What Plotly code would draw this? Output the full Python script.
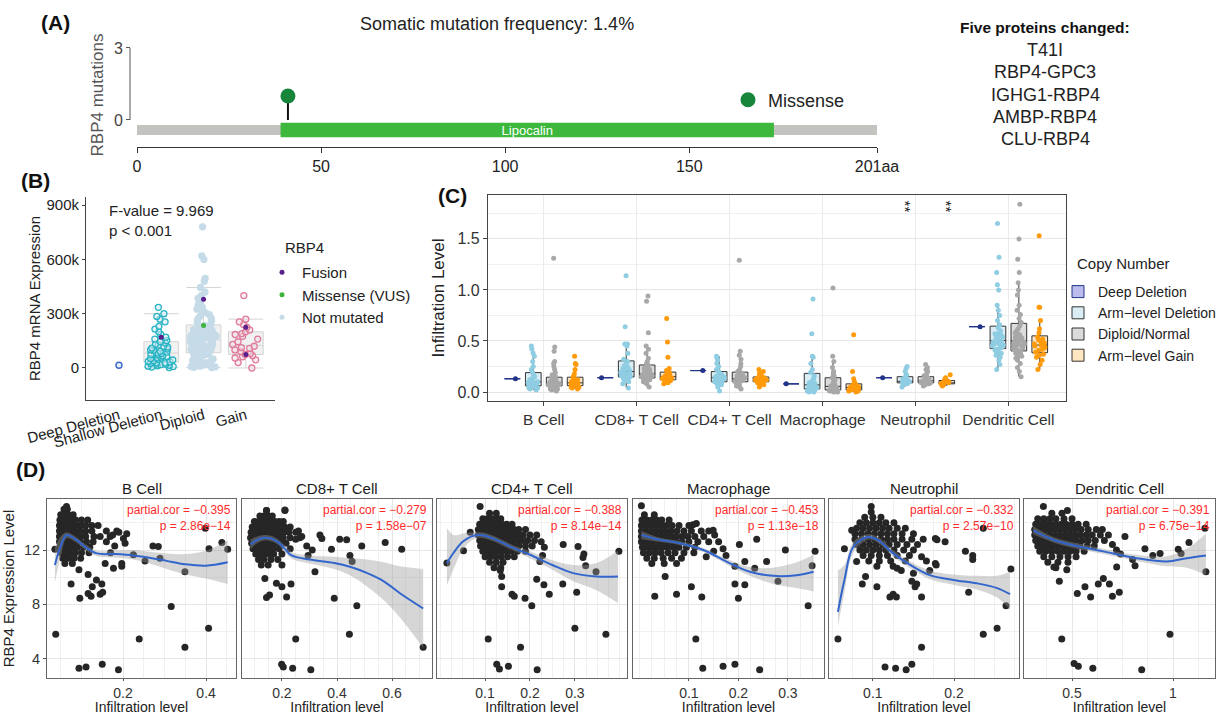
import plotly.graph_objects as go

W, H = 1226, 715
FONT = "Arial, Liberation Sans, Helvetica, sans-serif"


def fx(p):
    return p / W


def fy(p):
    return 1 - p / H


# ---------------- Panel A data ----------------
A_TITLE = "Somatic mutation frequency: 1.4%"
PROTEIN_LEN = 201
DOMAIN_NAME = "Lipocalin"
DOMAIN_START = 39
DOMAIN_END = 173
MUT_POS = [41]
MUT_COUNT = [1]
MUT_TYPE = "Missense"
A_XTICKS = [0, 50, 100, 150, 201]
A_XTICKTEXT = ["0", "50", "100", "150", "201aa"]
A_YTICKS = [0, 3]
PROTEIN_HEADER = "Five proteins changed:"
PROTEIN_CHANGES = ["T41I", "RBP4-GPC3", "IGHG1-RBP4", "AMBP-RBP4", "CLU-RBP4"]

# ---------------- Panel B data (values in thousands) ----------------
B_CATS = ["Deep Deletion", "Shallow Deletion", "Diploid", "Gain"]
B_DEEP = [15]
B_SHALLOW = [2, 5, 8, 10, 12, 15, 18, 20, 22, 25, 28, 30, 33, 36, 40, 44, 48, 52, 56, 60,
             64, 68, 72, 76, 80, 84, 88, 92, 96, 100, 105, 110, 115, 120, 126, 132, 138,
             145, 152, 160, 170, 185, 200, 215, 230, 255, 270, 285, 300, 335]
B_DIPLOID = [2, 4, 6, 8, 10, 13, 16, 19, 22, 25, 29, 33, 37, 41, 45, 50, 55, 60, 65, 70, 75, 79,
             82, 85, 88, 91, 94, 97, 100, 103, 106, 109, 112, 115, 118, 121, 124, 127, 130, 133,
             136, 139, 142, 145, 148, 152, 155, 158, 161, 164, 167, 170, 173, 176, 179, 182,
             185, 188, 191, 194, 197, 200, 203, 206, 209, 212, 214, 220, 228, 236, 244, 252,
             260, 268, 276, 285, 295, 305, 315, 325, 335, 345, 355, 370, 385, 400, 420,
             445, 480, 495, 600, 620, 780]
B_GAIN = [0, 30, 45, 55, 62, 68, 75, 80, 90, 100, 108, 112, 120, 130, 145, 160, 175, 185, 190,
          200, 210, 225, 240, 255, 270, 400]
B_FUSION_CAT = ["Shallow Deletion", "Diploid", "Gain", "Gain"]
B_FUSION_VAL = [170, 380, 225, 75]
B_MISSENSE_CAT = ["Diploid"]
B_MISSENSE_VAL = [235]
B_YTICKS = [0, 300, 600, 900]
B_YTICKTEXT = ["0", "300k", "600k", "900k"]
B_STATS = "F-value = 9.969<br>p < 0.001"
B_LEGEND_TITLE = "RBP4"

# ---------------- Panel C data ----------------
C_CATS = ["B Cell", "CD8+ T Cell", "CD4+ T Cell", "Macrophage", "Neutrophil", "Dendritic Cell"]
C_DEEP = {"B Cell": [0.13], "CD8+ T Cell": [0.14], "CD4+ T Cell": [0.21],
          "Macrophage": [0.08], "Neutrophil": [0.14], "Dendritic Cell": [0.64]}
C_ARMDEL = {
    "B Cell": [0.02, 0.03, 0.04, 0.04, 0.05, 0.05, 0.06, 0.06, 0.07, 0.07, 0.08, 0.08, 0.09, 0.09,
               0.10, 0.10, 0.11, 0.12, 0.13, 0.14, 0.15, 0.17, 0.19, 0.22, 0.25, 0.30, 0.35, 0.38,
               0.42, 0.45],
    "CD8+ T Cell": [0.04, 0.08, 0.10, 0.11, 0.12, 0.13, 0.14, 0.15, 0.15, 0.16, 0.17, 0.18, 0.18,
                    0.19, 0.20, 0.21, 0.22, 0.23, 0.24, 0.26, 0.28, 0.30, 0.32, 0.38, 0.45, 0.47,
                    0.47, 0.64, 1.14],
    "CD4+ T Cell": [0.01, 0.05, 0.07, 0.08, 0.09, 0.10, 0.10, 0.11, 0.12, 0.12, 0.13, 0.13, 0.14,
                    0.14, 0.15, 0.15, 0.16, 0.17, 0.18, 0.20, 0.22, 0.25, 0.28, 0.31, 0.33, 0.35],
    "Macrophage": [0.00, 0.00, 0.01, 0.01, 0.02, 0.02, 0.03, 0.03, 0.04, 0.04, 0.05, 0.05, 0.06,
                   0.07, 0.08, 0.09, 0.10, 0.12, 0.14, 0.16, 0.19, 0.22, 0.28, 0.34, 0.35, 0.57,
                   0.91],
    "Neutrophil": [0.05, 0.07, 0.08, 0.08, 0.09, 0.09, 0.10, 0.10, 0.10, 0.11, 0.11, 0.12, 0.13,
                   0.15, 0.17, 0.20, 0.23, 0.25],
    "Dendritic Cell": [0.22, 0.27, 0.31, 0.34, 0.36, 0.38, 0.39, 0.40, 0.41, 0.42, 0.43, 0.44,
                       0.45, 0.46, 0.46, 0.47, 0.47, 0.48, 0.49, 0.50, 0.51, 0.52, 0.53, 0.54,
                       0.55, 0.56, 0.57, 0.58, 0.60, 0.63, 0.66, 0.70, 0.75, 0.80, 0.85, 1.00,
                       1.05, 1.17, 1.32, 1.65],
}
C_DIPLOID = {
    "B Cell": [0.01, 0.02, 0.03, 0.03, 0.04, 0.04, 0.05, 0.05, 0.05, 0.06, 0.06, 0.06, 0.07, 0.07,
               0.07, 0.08, 0.08, 0.08, 0.08, 0.09, 0.09, 0.09, 0.10, 0.10, 0.11, 0.11, 0.12, 0.12,
               0.13, 0.14, 0.15, 0.17, 0.19, 0.22, 0.25, 0.28, 0.30, 0.40, 0.44, 1.31],
    "CD8+ T Cell": [0.05, 0.08, 0.09, 0.10, 0.11, 0.12, 0.12, 0.13, 0.13, 0.14, 0.14, 0.15, 0.15,
                    0.16, 0.16, 0.17, 0.17, 0.17, 0.18, 0.18, 0.19, 0.19, 0.20, 0.21, 0.22, 0.23,
                    0.24, 0.26, 0.28, 0.30, 0.33, 0.38, 0.42, 0.45, 0.58, 0.89, 0.94],
    "CD4+ T Cell": [0.03, 0.05, 0.06, 0.07, 0.08, 0.09, 0.09, 0.10, 0.10, 0.11, 0.11, 0.12, 0.12,
                    0.12, 0.13, 0.13, 0.14, 0.14, 0.15, 0.15, 0.16, 0.17, 0.18, 0.20, 0.22, 0.25,
                    0.28, 0.32, 0.36, 0.40, 1.29],
    "Macrophage": [0.00, 0.00, 0.01, 0.01, 0.01, 0.02, 0.02, 0.02, 0.03, 0.03, 0.03, 0.04, 0.04,
                   0.05, 0.05, 0.06, 0.06, 0.07, 0.08, 0.09, 0.10, 0.12, 0.14, 0.16, 0.18, 0.20,
                   0.24, 0.30, 0.35, 1.02],
    "Neutrophil": [0.06, 0.07, 0.08, 0.08, 0.09, 0.09, 0.09, 0.10, 0.10, 0.10, 0.10, 0.11, 0.11,
                   0.11, 0.12, 0.12, 0.13, 0.14, 0.16, 0.18, 0.20, 0.22, 0.24, 0.27],
    "Dendritic Cell": [0.15, 0.20, 0.24, 0.28, 0.31, 0.33, 0.35, 0.36, 0.37, 0.38, 0.39, 0.40,
                       0.41, 0.42, 0.43, 0.44, 0.45, 0.45, 0.46, 0.46, 0.47, 0.48, 0.49, 0.50,
                       0.51, 0.52, 0.53, 0.54, 0.55, 0.56, 0.57, 0.58, 0.60, 0.62, 0.65, 0.68,
                       0.72, 0.76, 0.80, 0.85, 0.95, 1.00, 1.07, 1.17, 1.30, 1.50, 1.84],
}
C_GAIN = {
    "B Cell": [0.03, 0.04, 0.05, 0.05, 0.06, 0.06, 0.07, 0.07, 0.08, 0.08, 0.08, 0.09, 0.09, 0.10,
               0.11, 0.12, 0.13, 0.15, 0.18, 0.22, 0.27, 0.28, 0.35],
    "CD8+ T Cell": [0.08, 0.09, 0.10, 0.11, 0.12, 0.12, 0.13, 0.13, 0.14, 0.14, 0.15, 0.15, 0.16,
                    0.17, 0.18, 0.19, 0.21, 0.23, 0.34, 0.49, 0.72],
    "CD4+ T Cell": [0.05, 0.07, 0.08, 0.09, 0.10, 0.10, 0.11, 0.11, 0.12, 0.12, 0.13, 0.13, 0.14,
                    0.14, 0.15, 0.16, 0.18, 0.20, 0.22],
    "Macrophage": [0.00, 0.01, 0.01, 0.02, 0.02, 0.03, 0.03, 0.04, 0.04, 0.05, 0.05, 0.06, 0.07,
                   0.08, 0.10, 0.13, 0.20, 0.56],
    "Neutrophil": [0.06, 0.07, 0.08, 0.08, 0.09, 0.09, 0.09, 0.10, 0.10, 0.11, 0.12, 0.14, 0.17],
    "Dendritic Cell": [0.22, 0.27, 0.31, 0.34, 0.36, 0.37, 0.39, 0.41, 0.42, 0.43, 0.44, 0.45,
                       0.46, 0.47, 0.48, 0.50, 0.51, 0.52, 0.54, 0.58, 0.62, 0.70, 0.83, 0.83, 1.53],
}
C_GROUPS = ["Deep Deletion", "Arm\u2212level Deletion", "Diploid/Normal", "Arm\u2212level Gain"]
C_LEGEND_TITLE = "Copy Number"
C_SIG = [("Neutrophil", "Arm\u2212level Deletion"), ("Neutrophil", "Arm\u2212level Gain")]

# ---------------- Panel D data ----------------
D_NAMES = ["B Cell", "CD8+ T Cell", "CD4+ T Cell", "Macrophage", "Neutrophil", "Dendritic Cell"]
D_COR = ["\u22120.395", "\u22120.279", "\u22120.388", "\u22120.453", "\u22120.332", "\u22120.391"]
D_PVAL = ["2.86e\u221214", "1.58e\u221207", "8.14e\u221214", "1.13e\u221218", "2.57e\u221210", "6.75e\u221214"]

# dense clusters: (expression level, [infiltration values])
D_BCELL_ROWS = [
    (15.0, [0.058, 0.066]),
    (14.6, [0.050, 0.058, 0.068, 0.080]),
    (14.2, [0.048, 0.056, 0.065, 0.075, 0.086, 0.100, 0.115]),
    (13.8, [0.047, 0.055, 0.064, 0.074, 0.085, 0.097, 0.110, 0.125, 0.140]),
    (13.4, [0.047, 0.055, 0.064, 0.074, 0.085, 0.097, 0.110, 0.125, 0.160, 0.185]),
    (13.0, [0.047, 0.055, 0.064, 0.074, 0.085, 0.097, 0.110, 0.130, 0.145]),
    (12.6, [0.047, 0.055, 0.064, 0.074, 0.085, 0.097, 0.112, 0.128]),
    (12.2, [0.048, 0.056, 0.066, 0.077, 0.090, 0.105, 0.120]),
    (11.8, [0.050, 0.060, 0.072, 0.085, 0.100, 0.118]),
    (11.4, [0.055, 0.068, 0.082, 0.098]),
    (11.0, [0.060, 0.078]),
]
D_BCELL_OUT = [(0.038, 5.8), (0.094, 3.3), (0.111, 3.4), (0.15, 3.6), (0.189, 3.2), (0.239, 5.45),
               (0.349, 4.85), (0.406, 6.25), (0.316, 7.85), (0.349, 10.4), (0.398, 13.6),
               (0.407, 12.1), (0.438, 12.55), (0.452, 12.05), (0.285, 12.25), (0.289, 11.4),
               (0.272, 12.3), (0.253, 11.2), (0.225, 11.65), (0.197, 11.0), (0.197, 10.8),
               (0.177, 10.65), (0.157, 11.0), (0.205, 12.5), (0.201, 12.85), (0.209, 13.2),
               (0.169, 13.0), (0.175, 13.1), (0.075, 9.5), (0.096, 8.45), (0.116, 8.8),
               (0.123, 8.6), (0.145, 8.75), (0.151, 8.9), (0.149, 9.5), (0.126, 9.3),
               (0.136, 9.8), (0.116, 10.2), (0.094, 10.55), (0.036, 12.05), (0.064, 15.2),
               (0.16, 12.6), (0.18, 12.3), (0.19, 13.3), (0.17, 11.8)]
D_BCELL_SM = dict(x=[0.036, 0.05, 0.064, 0.085, 0.11, 0.137, 0.18, 0.225, 0.27, 0.305, 0.35, 0.40, 0.452],
                  y=[10.9, 12.3, 13.1, 12.8, 12.2, 11.75, 11.7, 11.6, 11.4, 11.2, 10.95, 10.85, 11.1],
                  lo=[9.6, 11.5, 12.85, 12.6, 12.0, 11.55, 11.45, 11.3, 10.95, 10.6, 10.2, 9.9, 9.5],
                  hi=[12.2, 13.0, 13.3, 13.0, 12.4, 11.95, 11.95, 12.0, 11.85, 11.75, 11.7, 11.95, 12.7])

D_CD8_ROWS = [
    (14.9, [0.144, 0.211]),
    (14.5, [0.120, 0.135, 0.150, 0.165]),
    (14.1, [0.100, 0.115, 0.130, 0.145, 0.160, 0.175, 0.190, 0.205]),
    (13.7, [0.092, 0.105, 0.120, 0.135, 0.150, 0.165, 0.180, 0.195, 0.210, 0.230]),
    (13.3, [0.088, 0.100, 0.115, 0.130, 0.145, 0.160, 0.175, 0.190, 0.205, 0.225, 0.250]),
    (12.9, [0.086, 0.098, 0.112, 0.127, 0.142, 0.157, 0.172, 0.187, 0.205, 0.230, 0.265]),
    (12.5, [0.090, 0.102, 0.117, 0.132, 0.147, 0.162, 0.177, 0.195, 0.215]),
    (12.1, [0.095, 0.110, 0.125, 0.140, 0.155, 0.170, 0.190, 0.230]),
    (11.7, [0.105, 0.120, 0.135, 0.150, 0.170, 0.200]),
    (11.3, [0.115, 0.135, 0.160, 0.185]),
    (10.9, [0.125, 0.150, 0.200]),
]
D_CD8_OUT = [(0.144, 8.5), (0.155, 8.7), (0.217, 8.55), (0.18, 9.55), (0.2, 9.3), (0.233, 9.5),
             (0.138, 9.9), (0.39, 8.45), (0.472, 7.9), (0.445, 5.8), (0.25, 5.45), (0.199, 3.6),
             (0.205, 3.4), (0.239, 3.3), (0.305, 3.2), (0.575, 12.55), (0.635, 12.05),
             (0.447, 11.6), (0.455, 11.15), (0.435, 12.75), (0.41, 12.8), (0.38, 12.05),
             (0.49, 12.3), (0.32, 10.4), (0.295, 11.6), (0.338, 13.1), (0.345, 12.85),
             (0.272, 13.0), (0.26, 13.4), (0.25, 12.8), (0.211, 14.95), (0.144, 14.9),
             (0.713, 4.85), (0.29, 12.3), (0.31, 12.0)]
D_CD8_SM = dict(x=[0.086, 0.11, 0.135, 0.16, 0.185, 0.21, 0.235, 0.3, 0.39, 0.45, 0.51, 0.57, 0.63, 0.713],
                y=[12.4, 12.75, 12.9, 12.85, 12.6, 12.1, 11.6, 11.3, 11.05, 10.75, 10.3, 9.7, 8.8, 7.7],
                lo=[12.05, 12.5, 12.7, 12.65, 12.4, 11.85, 11.35, 11.0, 10.6, 10.1, 9.3, 8.3, 7.0, 4.8],
                hi=[12.75, 13.0, 13.1, 13.05, 12.8, 12.35, 11.85, 11.6, 11.5, 11.4, 11.3, 11.1, 10.8, 10.6])

D_CD4_ROWS = [
    (14.7, [0.110, 0.125]),
    (14.3, [0.095, 0.105, 0.115, 0.125, 0.135]),
    (13.9, [0.088, 0.098, 0.108, 0.118, 0.128, 0.138, 0.148, 0.160]),
    (13.5, [0.085, 0.095, 0.105, 0.115, 0.125, 0.135, 0.145, 0.155, 0.165, 0.175, 0.190]),
    (13.1, [0.085, 0.095, 0.105, 0.115, 0.125, 0.135, 0.145, 0.155, 0.165, 0.175, 0.185, 0.200, 0.215]),
    (12.7, [0.088, 0.098, 0.108, 0.118, 0.128, 0.138, 0.148, 0.158, 0.170, 0.182, 0.195, 0.210]),
    (12.3, [0.090, 0.100, 0.110, 0.120, 0.130, 0.140, 0.150, 0.162, 0.175, 0.190, 0.205]),
    (11.9, [0.095, 0.105, 0.115, 0.125, 0.135, 0.145, 0.158, 0.172, 0.190]),
    (11.5, [0.100, 0.112, 0.124, 0.136, 0.150, 0.165]),
    (11.1, [0.110, 0.125, 0.140]),
    (10.7, [0.120, 0.135]),
]
D_CD4_OUT = [(0.089, 15.2), (0.015, 11.05), (0.052, 11.95), (0.067, 13.3), (0.107, 5.45),
             (0.179, 4.85), (0.126, 3.6), (0.132, 3.25), (0.152, 3.45), (0.216, 3.2), (0.3, 6.25),
             (0.369, 5.8), (0.204, 7.9), (0.189, 8.45), (0.16, 8.75), (0.165, 8.6), (0.243, 8.75),
             (0.304, 8.9), (0.273, 9.5), (0.231, 9.45), (0.215, 9.85), (0.137, 9.3),
             (0.137, 10.05), (0.134, 10.5), (0.274, 12.4), (0.307, 12.25), (0.318, 11.45),
             (0.32, 11.7), (0.324, 10.85), (0.347, 10.4), (0.398, 11.9), (0.222, 11.15),
             (0.228, 11.6), (0.232, 12.2), (0.225, 12.6)]
D_CD4_SM = dict(x=[0.015, 0.03, 0.05, 0.07, 0.085, 0.1, 0.125, 0.156, 0.2, 0.25, 0.296, 0.348, 0.396],
                y=[11.05, 11.8, 12.6, 13.0, 13.1, 13.05, 12.75, 12.25, 11.65, 10.9, 10.3, 10.05, 10.05],
                lo=[9.4, 10.6, 12.0, 12.7, 12.9, 12.85, 12.55, 12.05, 11.4, 10.55, 9.7, 9.05, 8.1],
                hi=[13.6, 13.1, 13.2, 13.3, 13.3, 13.25, 12.95, 12.45, 11.9, 11.25, 10.9, 11.05, 11.95])

D_MAC_ROWS = [
    (14.6, [0.010, 0.030]),
    (14.2, [0.005, 0.015, 0.025, 0.035, 0.045, 0.060]),
    (13.8, [0.004, 0.014, 0.024, 0.034, 0.044, 0.054, 0.066, 0.080, 0.100]),
    (13.4, [0.004, 0.014, 0.024, 0.034, 0.044, 0.054, 0.064, 0.076, 0.090, 0.105, 0.125, 0.140]),
    (13.0, [0.004, 0.014, 0.024, 0.034, 0.044, 0.054, 0.064, 0.074, 0.086, 0.098, 0.112, 0.130]),
    (12.6, [0.004, 0.014, 0.024, 0.034, 0.044, 0.054, 0.064, 0.074, 0.086, 0.100, 0.118, 0.140]),
    (12.2, [0.006, 0.016, 0.026, 0.036, 0.046, 0.056, 0.068, 0.080, 0.095, 0.112]),
    (11.8, [0.008, 0.020, 0.032, 0.044, 0.058, 0.072, 0.090, 0.110]),
    (11.4, [0.015, 0.030, 0.048, 0.065, 0.085]),
    (11.0, [0.025, 0.050, 0.075]),
]
D_MAC_OUT = [(0.004, 15.25), (0.031, 8.6), (0.075, 8.75), (0.052, 10.05), (0.105, 9.3),
             (0.126, 8.55), (0.114, 5.45), (0.128, 3.3), (0.169, 3.45), (0.193, 3.6),
             (0.243, 3.2), (0.193, 9.5), (0.213, 9.45), (0.2, 8.45), (0.341, 7.9), (0.28, 9.7),
             (0.237, 12.8), (0.202, 12.4), (0.169, 12.1), (0.175, 11.6), (0.213, 11.15),
             (0.257, 11.15), (0.233, 10.65), (0.193, 10.8), (0.295, 12.0), (0.355, 11.9),
             (0.349, 10.85), (0.149, 13.45), (0.152, 13.1), (0.115, 13.95), (0.108, 13.85),
             (0.16, 12.6), (0.15, 11.9), (0.135, 11.5)]
D_MAC_SM = dict(x=[0.004, 0.041, 0.082, 0.129, 0.176, 0.223, 0.27, 0.318, 0.352],
                y=[13.1, 12.75, 12.5, 12.0, 11.15, 10.4, 10.1, 10.15, 10.4],
                lo=[12.8, 12.6, 12.35, 11.85, 10.95, 10.1, 9.5, 9.2, 8.95],
                hi=[13.4, 12.9, 12.65, 12.15, 11.35, 10.75, 10.7, 11.1, 11.65])

D_NEU_ROWS = [
    (14.8, [0.098]),
    (14.4, [0.090, 0.100, 0.110]),
    (14.0, [0.084, 0.092, 0.100, 0.108, 0.116, 0.126]),
    (13.6, [0.080, 0.088, 0.096, 0.104, 0.112, 0.120, 0.130, 0.140]),
    (13.2, [0.078, 0.086, 0.094, 0.102, 0.110, 0.118, 0.126, 0.136, 0.150]),
    (12.8, [0.078, 0.086, 0.094, 0.102, 0.110, 0.118, 0.126, 0.136, 0.148, 0.162]),
    (12.4, [0.080, 0.088, 0.096, 0.104, 0.112, 0.120, 0.130, 0.142, 0.155]),
    (12.0, [0.084, 0.092, 0.100, 0.108, 0.116, 0.126, 0.138, 0.150]),
    (11.6, [0.088, 0.098, 0.108, 0.118, 0.130, 0.145]),
    (11.2, [0.095, 0.108, 0.122, 0.140]),
    (10.8, [0.105, 0.125]),
]
D_NEU_OUT = [(0.057, 5.45), (0.065, 12.1), (0.074, 13.45), (0.08, 11.15), (0.091, 10.05),
             (0.087, 9.5), (0.105, 9.3), (0.098, 15.2), (0.115, 3.4), (0.128, 3.3), (0.141, 3.2),
             (0.148, 3.6), (0.16, 4.85), (0.121, 8.55), (0.125, 8.75), (0.129, 8.55), (0.16, 8.55),
             (0.152, 9.3), (0.154, 9.5), (0.148, 9.7), (0.177, 12.85), (0.179, 12.75),
             (0.189, 12.6), (0.177, 11.0), (0.178, 10.9), (0.166, 11.2), (0.236, 13.6),
             (0.214, 11.9), (0.223, 11.6), (0.223, 11.3), (0.218, 8.9), (0.236, 5.8),
             (0.253, 6.25), (0.264, 7.9), (0.27, 10.6), (0.13, 10.65), (0.135, 10.5),
             (0.15, 10.3), (0.17, 10.5), (0.16, 11.5)]
D_NEU_SM = dict(x=[0.057, 0.065, 0.076, 0.094, 0.106, 0.125, 0.146, 0.17, 0.199, 0.228, 0.253, 0.269],
                y=[7.45, 9.8, 12.25, 12.95, 12.75, 11.75, 10.9, 10.15, 9.8, 9.55, 9.2, 8.75],
                lo=[6.4, 8.9, 11.8, 12.75, 12.55, 11.5, 10.65, 9.85, 9.45, 9.1, 8.5, 7.6],
                hi=[10.5, 10.9, 12.6, 13.15, 12.95, 12.0, 11.15, 10.5, 10.2, 10.1, 10.1, 10.4])

D_DC_ROWS = [
    (14.7, [0.400, 0.450]),
    (14.3, [0.330, 0.360, 0.390, 0.420, 0.460, 0.500]),
    (13.9, [0.320, 0.345, 0.370, 0.395, 0.420, 0.445, 0.470, 0.500, 0.530, 0.570]),
    (13.5, [0.315, 0.340, 0.365, 0.390, 0.415, 0.440, 0.465, 0.490, 0.515, 0.545, 0.580, 0.620, 0.650]),
    (13.1, [0.315, 0.340, 0.365, 0.390, 0.415, 0.440, 0.465, 0.490, 0.515, 0.540, 0.570, 0.600, 0.640, 0.680]),
    (12.7, [0.320, 0.345, 0.370, 0.395, 0.420, 0.445, 0.470, 0.495, 0.520, 0.550, 0.580, 0.615, 0.660]),
    (12.3, [0.330, 0.355, 0.380, 0.405, 0.430, 0.455, 0.480, 0.510, 0.540, 0.575, 0.610]),
    (11.9, [0.340, 0.370, 0.400, 0.430, 0.460, 0.490, 0.520, 0.560]),
    (11.5, [0.360, 0.400, 0.440, 0.480, 0.520]),
    (11.1, [0.380, 0.430, 0.480]),
    (10.7, [0.420]),
]
D_DC_OUT = [(0.358, 15.2), (0.477, 14.9), (0.449, 5.45), (0.51, 3.65), (0.531, 3.45), (0.603, 3.3),
            (0.845, 3.2), (0.985, 5.8), (0.526, 8.8), (0.592, 8.55), (0.564, 9.3), (0.63, 9.5),
            (0.655, 9.9), (0.685, 9.5), (0.70, 8.6), (0.734, 8.9), (0.437, 9.7), (0.474, 10.55),
            (0.41, 10.75), (0.721, 10.75), (0.812, 10.85), (0.762, 13.0), (0.861, 12.1),
            (0.936, 11.75), (0.9, 11.6), (1.026, 12.05), (1.04, 11.75), (1.079, 12.55),
            (1.158, 13.6), (1.163, 10.4), (0.8, 11.3), (0.7, 12.4), (0.72, 12.0), (0.74, 11.7)]
D_DC_SM = dict(x=[0.308, 0.407, 0.506, 0.655, 0.82, 0.969, 1.068, 1.163],
               y=[13.45, 12.75, 12.35, 11.9, 11.4, 11.15, 11.4, 11.6],
               lo=[13.15, 12.55, 12.15, 11.7, 11.2, 10.8, 10.7, 10.15],
               hi=[13.75, 12.95, 12.55, 12.1, 11.65, 11.55, 12.1, 13.2])

D_ROWS = [D_BCELL_ROWS, D_CD8_ROWS, D_CD4_ROWS, D_MAC_ROWS, D_NEU_ROWS, D_DC_ROWS]
D_OUT = [D_BCELL_OUT, D_CD8_OUT, D_CD4_OUT, D_MAC_OUT, D_NEU_OUT, D_DC_OUT]
D_SM = [D_BCELL_SM, D_CD8_SM, D_CD4_SM, D_MAC_SM, D_NEU_SM, D_DC_SM]
D_XTICKS = [[0.2, 0.4], [0.2, 0.4, 0.6], [0.1, 0.2, 0.3], [0.1, 0.2, 0.3], [0.1, 0.2], [0.5, 1.0]]
D_YTICKS = [4, 8, 12]

# ---------------- layout geometry (pixels) ----------------
D_PANEL_PX = [(47, 236), (242, 432), (437, 627), (633, 824), (829, 1019), (1024, 1215)]
D_XRANGE = [[0.017, 0.472], [0.055, 0.745], [-0.007, 0.416], [-0.013, 0.373], [0.046, 0.28], [0.262, 1.208]]
D_XMINOR = [0.05, 0.05, 0.025, 0.025, 0.025, 0.125]

fig = go.Figure()

# ================= Panel A =================
fig.add_trace(go.Bar(x=[PROTEIN_LEN], base=[0], y=[-0.42], orientation="h", width=0.42,
                     marker=dict(color="#c3c3bf", line=dict(width=0)), xaxis="x", yaxis="y",
                     showlegend=False, hoverinfo="skip"))
fig.add_trace(go.Bar(x=[DOMAIN_END - DOMAIN_START], base=[DOMAIN_START], y=[-0.42], orientation="h",
                     width=0.6, marker=dict(color="#3db83d", line=dict(width=0)),
                     text=[DOMAIN_NAME], textposition="inside", insidetextanchor="middle",
                     textangle=0, constraintext="none",
                     textfont=dict(color="white", size=13, family=FONT),
                     xaxis="x", yaxis="y", showlegend=False, hoverinfo="skip"))
for pos, cnt in zip(MUT_POS, MUT_COUNT):
    fig.add_trace(go.Scatter(x=[pos, pos], y=[0, cnt], mode="lines",
                             line=dict(color="#111111", width=2), xaxis="x", yaxis="y",
                             showlegend=False, hoverinfo="skip"))
fig.add_trace(go.Scatter(x=MUT_POS, y=MUT_COUNT, mode="markers", name=MUT_TYPE,
                         marker=dict(size=15, color="#17863b"), xaxis="x", yaxis="y",
                         legend="legend3", showlegend=True, hoverinfo="skip"))

# ================= Panel B =================
def b_box(cat, vals, fill, ring):
    return go.Box(x=[cat] * len(vals), y=vals, xaxis="x2", yaxis="y2", boxpoints="all",
                  jitter=0.9, pointpos=0, width=0.82, offsetgroup="B", alignmentgroup="B",
                  fillcolor="rgba(215,215,215,0.35)", line=dict(color="#d4d4d4", width=1),
                  whiskerwidth=1, marker=dict(size=6, color=fill, line=dict(color=ring, width=1.3)),
                  showlegend=False, hoverinfo="skip")


fig.add_trace(b_box(B_CATS[1], B_SHALLOW, "rgba(210,235,245,0.5)", "#28b4c4"))
fig.add_trace(b_box(B_CATS[2], B_DIPLOID, "#c6dbe8", "#c6dbe8"))
fig.add_trace(b_box(B_CATS[3], B_GAIN, "rgba(240,220,230,0.5)", "#e07b9a"))
fig.add_trace(go.Scatter(x=[B_CATS[0]] * len(B_DEEP), y=B_DEEP, mode="markers",
                         marker=dict(size=6, color="rgba(210,225,245,0.5)",
                                     line=dict(color="#3b68c9", width=1.4)),
                         xaxis="x2", yaxis="y2", showlegend=False, hoverinfo="skip"))
fig.add_trace(go.Scatter(x=B_FUSION_CAT, y=B_FUSION_VAL, mode="markers", name="Fusion",
                         marker=dict(size=5, color="#5a1f8c"), xaxis="x2", yaxis="y2",
                         legend="legend2", hoverinfo="skip"))
fig.add_trace(go.Scatter(x=B_MISSENSE_CAT, y=B_MISSENSE_VAL, mode="markers", name="Missense (VUS)",
                         marker=dict(size=5, color="#3cb43c"), xaxis="x2", yaxis="y2",
                         legend="legend2", hoverinfo="skip"))
fig.add_trace(go.Scatter(x=[None], y=[None], mode="markers", name="Not mutated",
                         marker=dict(size=5, color="#c6dbe8"), xaxis="x2", yaxis="y2",
                         legend="legend2", hoverinfo="skip"))

# ================= Panel C =================
def c_box(name, data, pt, fill, line, og):
    xs, ys = [], []
    for cat in C_CATS:
        xs += [cat] * len(data[cat])
        ys += data[cat]
    return go.Box(x=xs, y=ys, name=name, xaxis="x3", yaxis="y3", offsetgroup=og,
                  boxpoints="all", jitter=0.75, pointpos=0, fillcolor=fill,
                  line=dict(color=line, width=1), whiskerwidth=0,
                  marker=dict(size=5, color=pt), legend="legend", hoverinfo="skip")


fig.add_trace(c_box(C_GROUPS[0], C_DEEP, "#22348a", "rgba(120,120,220,0.5)", "#22348a", "g1"))
fig.add_trace(c_box(C_GROUPS[1], C_ARMDEL, "#8fcde3", "rgba(173,216,230,0.45)", "#333333", "g2"))
fig.add_trace(c_box(C_GROUPS[2], C_DIPLOID, "#a8a8a8", "rgba(185,185,185,0.5)", "#333333", "g3"))
fig.add_trace(c_box(C_GROUPS[3], C_GAIN, "#ff9a0a", "rgba(255,200,120,0.45)", "#333333", "g4"))

# ================= Panel D =================
for i in range(6):
    xa = "x%d" % (4 + i)
    ya = "y%d" % (4 + i)
    rows = D_ROWS[i]
    px_ = [x for _, r in rows for x in r] + [p[0] for p in D_OUT[i]]
    py_ = [y for y, r in rows for _ in r] + [p[1] for p in D_OUT[i]]
    fig.add_trace(go.Scatter(x=px_, y=py_, mode="markers", marker=dict(size=7, color="#262626"),
                             xaxis=xa, yaxis=ya, showlegend=False, hoverinfo="skip"))
    sm = D_SM[i]
    fig.add_trace(go.Scatter(x=sm["x"], y=sm["lo"], mode="lines", line=dict(width=0, shape="spline"),
                             xaxis=xa, yaxis=ya, showlegend=False, hoverinfo="skip"))
    fig.add_trace(go.Scatter(x=sm["x"], y=sm["hi"], mode="lines", line=dict(width=0, shape="spline"),
                             fill="tonexty", fillcolor="rgba(153,153,153,0.4)",
                             xaxis=xa, yaxis=ya, showlegend=False, hoverinfo="skip"))
    fig.add_trace(go.Scatter(x=sm["x"], y=sm["y"], mode="lines",
                             line=dict(color="#3366cc", width=2, shape="spline"),
                             xaxis=xa, yaxis=ya, showlegend=False, hoverinfo="skip"))

# ================= Layout =================
layout = dict(
    width=W, height=H, margin=dict(l=0, r=0, t=0, b=0, autoexpand=False),
    paper_bgcolor="white", plot_bgcolor="white",
    font=dict(family=FONT, color="#222222", size=14),
    barmode="overlay", boxmode="group", boxgap=0.1, boxgroupgap=0.25,
    hovermode=False,
)

# A axes
layout["xaxis"] = dict(domain=[fx(137), fx(877)], range=[0, PROTEIN_LEN], anchor="free", position=fy(147),
                       tickmode="array", tickvals=A_XTICKS, ticktext=A_XTICKTEXT, ticks="outside",
                       ticklen=5, tickcolor="#333", showline=True, linecolor="#333", showgrid=False,
                       zeroline=False, tickfont=dict(size=16, color="#222"), automargin=False)
layout["yaxis"] = dict(domain=[fy(150), fy(40)], range=[-1.25, 3.33], anchor="free", position=fx(130),
                       tickmode="array", tickvals=A_YTICKS, ticks="outside", ticklen=4, tickcolor="#555",
                       showline=False, showgrid=False, zeroline=False, tickfont=dict(size=16, color="#444"),
                       automargin=False,
                       title=dict(text="RBP4 mutations", font=dict(size=17, color="#555"), standoff=4))

# B axes
layout["xaxis2"] = dict(domain=[fx(86), fx(275)], type="category", categoryorder="array",
                        categoryarray=B_CATS, range=[-0.78, 3.69], anchor="y2", showline=True,
                        linecolor="#444", showgrid=False, zeroline=False, ticks="", tickangle=-15,
                        tickfont=dict(size=15, color="#222"), automargin=False)
layout["yaxis2"] = dict(domain=[fy(400), fy(197)], range=[-177, 945], anchor="x2", tickmode="array",
                        tickvals=B_YTICKS, ticktext=B_YTICKTEXT, ticks="outside", ticklen=3,
                        showline=True, linecolor="#444", showgrid=False, zeroline=False,
                        tickfont=dict(size=15, color="#222"), automargin=False,
                        title=dict(text="RBP4 mRNA Expression", font=dict(size=15), standoff=2))

# C axes
layout["xaxis3"] = dict(domain=[fx(488), fx(1066)], type="category", categoryorder="array",
                        categoryarray=C_CATS, range=[-0.6, 5.62], anchor="y3", showline=True,
                        mirror=True, linecolor="#444", linewidth=1.2, showgrid=True,
                        gridcolor="#ebebeb", zeroline=False, ticks="outside", ticklen=4,
                        tickcolor="#444", tickfont=dict(size=15.5, color="#333"), automargin=False)
layout["yaxis3"] = dict(domain=[fy(401), fy(195)], range=[-0.088, 1.93], anchor="x3", dtick=0.5,
                        tick0=0, tickformat=".1f", ticks="outside", ticklen=4, tickcolor="#444",
                        showline=True, mirror=True, linecolor="#444", linewidth=1.2, showgrid=True,
                        gridcolor="#e6e6e6", zeroline=False, automargin=False,
                        minor=dict(dtick=0.25, tick0=0, showgrid=True, gridcolor="#f0f0f0"),
                        tickfont=dict(size=16, color="#333"),
                        title=dict(text="Infiltration Level", font=dict(size=17), standoff=8))

# D axes
for i in range(6):
    L, R = D_PANEL_PX[i]
    n = 4 + i
    layout["xaxis%d" % n] = dict(domain=[fx(L), fx(R)], range=D_XRANGE[i], anchor="y%d" % n,
                                 tickmode="array", tickvals=D_XTICKS[i], ticks="outside", ticklen=2,
                                 tickcolor="#555", showline=True, mirror=True, linecolor="#666",
                                 showgrid=True, gridcolor="#e6e6e6", zeroline=False, automargin=False,
                                 minor=dict(dtick=D_XMINOR[i], tick0=0, showgrid=True, gridcolor="#f0f0f0"),
                                 tickfont=dict(size=14, color="#333"),
                                 title=dict(text="Infiltration level", font=dict(size=14), standoff=0))
    layout["yaxis%d" % n] = dict(domain=[fy(678), fy(499)], range=[2.59, 15.75], anchor="x%d" % n,
                                 tickmode="array", tickvals=D_YTICKS, ticks="outside" if i == 0 else "",
                                 ticklen=3, tickcolor="#555", showticklabels=(i == 0), showline=True,
                                 mirror=True, linecolor="#666", showgrid=True, gridcolor="#e6e6e6",
                                 zeroline=False, automargin=False,
                                 minor=dict(dtick=2, tick0=0, showgrid=True, gridcolor="#f0f0f0"),
                                 tickfont=dict(size=14.5, color="#333"))
layout["yaxis4"]["title"] = dict(text="RBP4 Expression Level", font=dict(size=15), standoff=6)

# legends (titles drawn as annotations so they sit where the reference has them)
layout["legend"] = dict(x=fx(1058), y=fy(276), xanchor="left", yanchor="top", font=dict(size=14),
                        bgcolor="rgba(0,0,0,0)", tracegroupgap=0, itemwidth=30, traceorder="normal")
layout["legend2"] = dict(x=fx(262), y=fy(256), xanchor="left", yanchor="top", font=dict(size=15),
                         bgcolor="rgba(0,0,0,0)", tracegroupgap=0, itemsizing="trace",
                         traceorder="normal")
layout["legend3"] = dict(x=fx(728), y=fy(100), xanchor="left", yanchor="middle", font=dict(size=18),
                         bgcolor="rgba(0,0,0,0)", itemsizing="trace")

fig.update_layout(**layout)

# shapes: A y-axis line spanning 0..3
fig.add_shape(type="line", xref="paper", yref="y", x0=fx(130), x1=fx(130), y0=A_YTICKS[0],
              y1=A_YTICKS[-1], line=dict(color="#555", width=1))

# annotations
ann = []


def label(text, px, py, size=20, bold=True, xanchor="center", color="#111"):
    t = "<b>%s</b>" % text if bold else text
    ann.append(dict(text=t, x=fx(px), y=fy(py), xref="paper", yref="paper", showarrow=False,
                    xanchor=xanchor, yanchor="middle", font=dict(size=size, color=color)))


label("(A)", 55, 22, size=21)
label("(B)", 35, 180, size=21)
label("(C)", 452, 196, size=21)
label("(D)", 30, 470, size=21)
label(A_TITLE, 497, 24, size=18, bold=False, color="#222")
label(PROTEIN_HEADER, 1045, 28, size=15.5, bold=True, color="#111")
for k, s in enumerate(PROTEIN_CHANGES):
    label(s, 1045, 50 + k * 22.3, size=18, bold=False, color="#222")
label(B_LEGEND_TITLE, 283, 247, size=15, bold=False, xanchor="left", color="#222")
label(C_LEGEND_TITLE, 1075, 263, size=15, bold=False, xanchor="left", color="#222")

ann.append(dict(text=B_STATS, x=fx(107), y=fy(200), xref="paper", yref="paper", showarrow=False,
                xanchor="left", yanchor="top", align="left", font=dict(size=15, color="#222")))

# significance marks (two stacked asterisks) above the flagged boxes
for cat, grp in C_SIG:
    shift = {"Arm\u2212level Deletion": -10, "Arm\u2212level Gain": 31}[grp]
    ann.append(dict(text="**", x=cat, y=1.0, xref="x3", yref="y3 domain", xshift=shift, yshift=-4,
                    showarrow=False, textangle=90, xanchor="center", yanchor="top",
                    font=dict(size=15, color="#222")))

for i in range(6):
    n = 4 + i
    ann.append(dict(text=D_NAMES[i], x=0.5, y=fy(488), xref="x%d domain" % n, yref="paper",
                    showarrow=False, xanchor="center", yanchor="middle",
                    font=dict(size=15, color="#1a1a1a")))
    ann.append(dict(text="partial.cor = %s<br>p = %s" % (D_COR[i], D_PVAL[i]), x=0.985, y=0.99,
                    xref="x%d domain" % n, yref="y%d domain" % n, showarrow=False, xanchor="right",
                    yanchor="top", align="right", font=dict(size=12, color="#ff2a2a")))

fig.update_layout(annotations=ann)

fig.write_html("out.html", config={"displayModeBar": False},
               post_script="document.body.style.margin='0px';")
